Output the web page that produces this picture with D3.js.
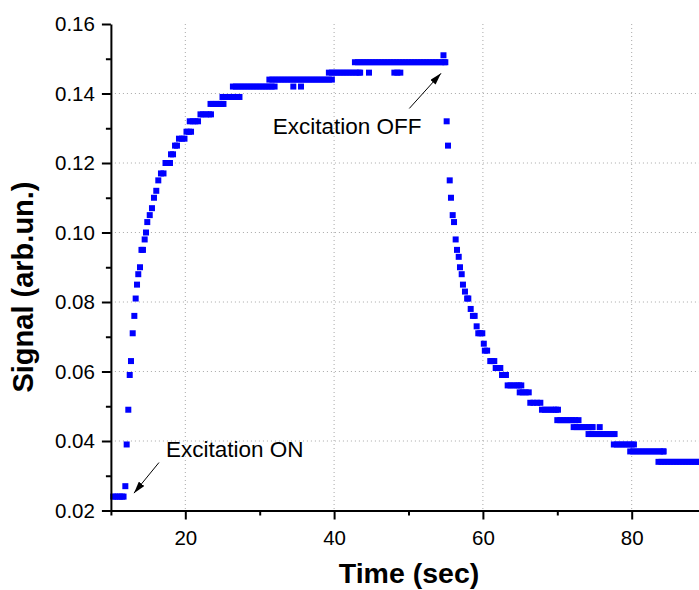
<!DOCTYPE html>
<html>
<head>
<meta charset="utf-8">
<script src="https://cdn.jsdelivr.net/npm/d3@7"></script>
<style>
  body { margin: 0; background: #fff; }
  svg { display: block; font-family: "Liberation Sans", Arial, sans-serif; }
  .axis path, .axis line { stroke: #000; stroke-width: 2; }
  .axis text { font-size: 20.5px; fill: #000; }
  .grid line { stroke: #a8a8a8; stroke-width: 1; stroke-dasharray: 1,3; }
</style>
</head>
<body>
<svg id="chart" width="699" height="590"></svg>
<script>
// axis ticks
const xTicksMajor = [20, 40, 60, 80];
const xTicksMinor = [10, 30, 50, 70, 90];
const yTicksMajor = [0.02, 0.04, 0.06, 0.08, 0.10, 0.12, 0.14, 0.16];
const yTicksMinor = [0.03, 0.05, 0.07, 0.09, 0.11, 0.13, 0.15];
const xGrid = [20, 40, 60, 80];
const yGrid = [0.04, 0.06, 0.08, 0.10, 0.12, 0.14];

// [time (sec), signal]
const risePoints = [
  [10.3, 0.024], [10.6, 0.024], [10.9, 0.024], [11.2, 0.024], [11.5, 0.024], [11.7, 0.024],
  [11.94, 0.027], [12.12, 0.039], [12.34, 0.049], [12.53, 0.059], [12.70, 0.063], [12.93, 0.071],
  [13.15, 0.076], [13.33, 0.081], [13.51, 0.085], [13.68, 0.088], [13.91, 0.090], [14.11, 0.095],
  [14.31, 0.095], [14.54, 0.098], [14.72, 0.100], [14.89, 0.103], [15.22, 0.105], [15.52, 0.107],
  [15.79, 0.110], [16.10, 0.112], [16.37, 0.115], [16.73, 0.117], [17.07, 0.117], [17.34, 0.120],
  [17.68, 0.120], [17.94, 0.120], [18.08, 0.1225], [18.35, 0.1225], [18.62, 0.125], [18.88, 0.125],
  [19.15, 0.127], [19.56, 0.127], [19.89, 0.127], [20.16, 0.129], [20.50, 0.129], [20.77, 0.129],
  [20.60, 0.132], [21.00, 0.132], [21.35, 0.132], [21.71, 0.132],
  [22.04, 0.134], [22.38, 0.134], [22.78, 0.134], [23.19, 0.134], [23.45, 0.134]
];

const plateauPoints = [
  [23.39, 0.137], [23.72, 0.137], [24.13, 0.137], [24.53, 0.137], [24.87, 0.137], [25.13, 0.137],
  [25.0, 0.139], [25.4, 0.139], [25.81, 0.139], [26.21, 0.139], [26.61, 0.139], [26.95, 0.139], [27.28, 0.139],
  [26.4, 0.142], [26.8, 0.142], [27.2, 0.142], [27.6, 0.142], [28.0, 0.142], [28.4, 0.142], [28.8, 0.142],
  [29.2, 0.142], [29.6, 0.142], [30.0, 0.142], [30.4, 0.142], [30.8, 0.142], [31.2, 0.142], [31.6, 0.142],
  [32.0, 0.142], [34.52, 0.142], [35.55, 0.142],
  [31.3, 0.144], [31.7, 0.144], [32.1, 0.144], [32.5, 0.144], [32.9, 0.144], [33.3, 0.144], [33.7, 0.144],
  [34.1, 0.144], [34.5, 0.144], [34.9, 0.144], [35.3, 0.144], [35.7, 0.144], [36.1, 0.144], [36.5, 0.144],
  [36.9, 0.144], [37.3, 0.144], [37.7, 0.144], [38.1, 0.144], [38.5, 0.144], [38.9, 0.144], [39.3, 0.144], [39.7, 0.144],
  [39.3, 0.146], [39.7, 0.146], [40.1, 0.146], [40.5, 0.146], [40.9, 0.146], [41.3, 0.146], [41.7, 0.146],
  [42.1, 0.146], [42.5, 0.146], [42.9, 0.146], [43.3, 0.146], [43.5, 0.146], [44.69, 0.146],
  [48.1, 0.146], [48.5, 0.146], [48.9, 0.146],
  [42.8, 0.149], [43.2, 0.149], [43.6, 0.149], [44.0, 0.149], [44.4, 0.149], [44.8, 0.149], [45.2, 0.149],
  [45.6, 0.149], [46.0, 0.149], [46.4, 0.149], [46.8, 0.149], [47.2, 0.149], [47.6, 0.149], [48.0, 0.149],
  [48.4, 0.149], [48.8, 0.149], [49.2, 0.149], [49.6, 0.149], [50.0, 0.149], [50.4, 0.149], [50.8, 0.149],
  [51.2, 0.149], [51.6, 0.149], [52.0, 0.149], [52.4, 0.149], [52.8, 0.149], [53.2, 0.149], [53.6, 0.149],
  [54.0, 0.149], [54.4, 0.149], [54.8, 0.149], [54.95, 0.149],
  [54.7, 0.151]
];

const decayPoints = [
  [55.13, 0.132], [55.31, 0.125], [55.54, 0.115], [55.71, 0.110], [55.94, 0.105], [56.12, 0.103],
  [56.34, 0.098], [56.52, 0.095], [56.75, 0.093], [56.92, 0.090], [57.15, 0.088], [57.32, 0.085],
  [57.59, 0.083], [57.88, 0.081], [58.04, 0.081], [58.36, 0.078], [58.66, 0.076], [58.89, 0.076],
  [59.16, 0.073], [59.38, 0.071], [59.65, 0.071], [59.92, 0.071], [60.12, 0.068], [60.26, 0.066],
  [60.57, 0.066], [60.99, 0.063], [61.26, 0.063], [61.53, 0.063], [61.72, 0.061], [62.03, 0.061],
  [62.34, 0.061], [62.57, 0.059], [62.84, 0.059], [63.10, 0.059],
  [63.33, 0.056], [63.71, 0.056], [64.11, 0.056], [64.52, 0.056], [64.85, 0.056], [65.16, 0.056],
  [64.95, 0.054], [65.35, 0.054], [65.75, 0.054], [66.16, 0.054],
  [66.37, 0.051], [66.80, 0.051], [67.27, 0.051], [67.72, 0.051],
  [67.94, 0.049], [68.34, 0.049], [68.75, 0.049], [69.15, 0.049], [69.55, 0.049], [69.82, 0.049], [70.09, 0.049],
  [70.0, 0.046], [70.4, 0.046], [70.8, 0.046], [71.2, 0.046], [71.6, 0.046], [72.0, 0.046], [72.4, 0.046], [72.85, 0.046],
  [72.2, 0.044], [72.6, 0.044], [73.0, 0.044], [73.4, 0.044], [73.8, 0.044], [74.2, 0.044], [74.6, 0.044],
  [74.75, 0.044], [75.7, 0.044],
  [74.2, 0.042], [74.6, 0.042], [75.0, 0.042], [75.4, 0.042], [75.8, 0.042], [76.2, 0.042], [76.6, 0.042],
  [77.0, 0.042], [77.4, 0.042], [77.7, 0.042],
  [77.6, 0.039], [78.0, 0.039], [78.4, 0.039], [78.8, 0.039], [79.2, 0.039], [79.6, 0.039], [80.0, 0.039], [80.3, 0.039],
  [79.8, 0.037], [80.2, 0.037], [80.6, 0.037], [81.0, 0.037], [81.4, 0.037], [81.8, 0.037], [82.2, 0.037],
  [82.6, 0.037], [83.0, 0.037], [83.4, 0.037], [83.8, 0.037], [84.2, 0.037], [84.3, 0.037],
  [83.6, 0.034], [84.0, 0.034], [84.4, 0.034], [84.8, 0.034], [85.2, 0.034], [85.6, 0.034], [86.0, 0.034],
  [86.4, 0.034], [86.8, 0.034], [87.2, 0.034], [87.6, 0.034], [88.0, 0.034], [88.4, 0.034], [88.8, 0.034],
  [89.2, 0.034], [89.6, 0.034]
];

// annotations: label anchor, arrow start, arrow tip (data coords)
const annotationLabels = ["Excitation ON", "Excitation OFF"];
const annotationAt = [[17.41, 0.0353], [31.75, 0.1283]];
const arrowFrom = [[16.46, 0.0338], [50.11, 0.1357]];
const arrowTo = [[13.10, 0.0250], [54.37, 0.1458]];

const svg = d3.select("#chart");

const x = d3.scaleLinear().domain([10, 90]).range([110.9, 706.1]);
const y = d3.scaleLinear().domain([0.02, 0.16]).range([510.5, 24]);

// grid
svg.append("g").attr("class", "grid")
  .selectAll("line").data(xGrid).enter().append("line")
  .attr("x1", d => x(d)).attr("x2", d => x(d))
  .attr("y1", y(0.16)).attr("y2", y(0.02));

svg.append("g").attr("class", "grid")
  .selectAll("line").data(yGrid).enter().append("line")
  .attr("x1", x(10)).attr("x2", x(90))
  .attr("y1", d => y(d)).attr("y2", d => y(d));

// points
const allPoints = risePoints.concat(plateauPoints, decayPoints);
svg.append("g")
  .selectAll("rect").data(allPoints).enter().append("rect")
  .attr("x", d => x(d[0]) - 3)
  .attr("y", d => y(d[1]) - 3)
  .attr("width", 6)
  .attr("height", 6)
  .attr("fill", "#0000ff");

// axes
svg.append("g").attr("class", "axis")
  .attr("transform", `translate(0,${y(0.02)})`)
  .call(d3.axisBottom(x).tickValues(xTicksMajor).tickSize(9).tickPadding(11).tickSizeOuter(0));
svg.append("g").attr("class", "axis")
  .attr("transform", `translate(0,${y(0.02)})`)
  .call(d3.axisBottom(x).tickValues(xTicksMinor).tickSize(5).tickFormat("").tickSizeOuter(0))
  .select(".domain").remove();

svg.append("g").attr("class", "axis")
  .attr("transform", `translate(${x(10)},0)`)
  .call(d3.axisLeft(y).tickValues(yTicksMajor).tickFormat(d3.format(".2f"))
    .tickSize(9).tickPadding(7).tickSizeOuter(0));
svg.append("g").attr("class", "axis")
  .attr("transform", `translate(${x(10)},0)`)
  .call(d3.axisLeft(y).tickValues(yTicksMinor).tickSize(5).tickFormat("").tickSizeOuter(0))
  .select(".domain").remove();

svg.selectAll(".axis text").attr("font-family", null);

// axis titles
svg.append("text")
  .attr("transform", "translate(33,287) rotate(-90)")
  .attr("text-anchor", "middle")
  .attr("font-size", 29)
  .attr("font-weight", "bold")
  .text("Signal (arb.un.)");

svg.append("text")
  .attr("x", 409)
  .attr("y", 583)
  .attr("text-anchor", "middle")
  .attr("font-size", 28.5)
  .attr("font-weight", "bold")
  .text("Time (sec)");

// arrow marker
svg.append("defs").append("marker")
  .attr("id", "arrow")
  .attr("viewBox", "0 0 12 7")
  .attr("refX", 12)
  .attr("refY", 3.5)
  .attr("markerWidth", 12)
  .attr("markerHeight", 7)
  .attr("markerUnits", "userSpaceOnUse")
  .attr("orient", "auto")
  .append("path")
  .attr("d", "M0,0 L12,3.5 L0,7 z")
  .attr("fill", "#000");

annotationLabels.forEach((label, i) => {
  svg.append("line")
    .attr("x1", x(arrowFrom[i][0])).attr("y1", y(arrowFrom[i][1]))
    .attr("x2", x(arrowTo[i][0])).attr("y2", y(arrowTo[i][1]))
    .attr("stroke", "#000")
    .attr("stroke-width", 1)
    .attr("marker-end", "url(#arrow)");
  svg.append("text")
    .attr("x", x(annotationAt[i][0]))
    .attr("y", y(annotationAt[i][1]))
    .attr("font-size", 22.5)
    .text(label);
});
</script>
</body>
</html>
